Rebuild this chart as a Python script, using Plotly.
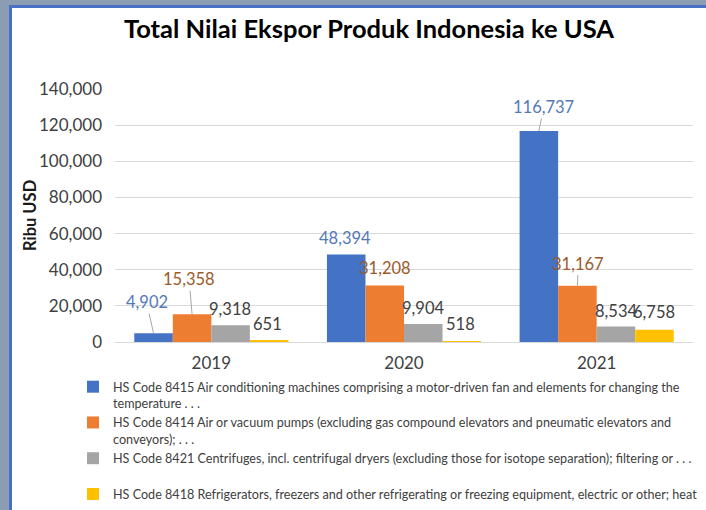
import plotly.graph_objects as go

years = ["2019", "2020", "2021"]
series_names = [
    "HS Code 8415 Air conditioning machines comprising a motor-driven fan and elements for changing the<br>temperature . . .",
    "HS Code 8414 Air or vacuum pumps (excluding gas compound elevators and pneumatic elevators and<br>conveyors); . . .",
    "HS Code 8421 Centrifuges, incl. centrifugal dryers (excluding those for isotope separation); filtering or . . .<br>&nbsp;",
    "HS Code 8418 Refrigerators, freezers and other refrigerating or freezing equipment, electric or other; heat<br>. . .",
]
hs8415 = [4902, 48394, 116737]
hs8414 = [15358, 31208, 31167]
hs8421 = [9318, 9904, 8534]
hs8418 = [651, 518, 6758]
values = [hs8415, hs8414, hs8421, hs8418]
y_title = "Ribu USD"

colors = ["#4472C4", "#ED7D31", "#A5A5A5", "#FFC000"]
label_colors = ["#5479B8", "#9C5A2A", "#404040", "#404040"]
# label offsets (px) relative to bar top: (dx, dy, leader line)
label_offsets = [
    [(-7, -31, True), (-1, -17, False), (5, -24, True)],
    [(-3, -35, True), (0, -18, False), (1, -22, True)],
    [(-1, -16, False), (0, -16, False), (0, -16, False)],
    [(-2, -17, False), (-1, -17, False), (0, -18, False)],
]

W, H = 706, 510
ML, MR, MT, MB = 115, 13, 89, 168
PW, PH = W - ML - MR, H - MT - MB
bargap = 0.2
n_series = len(values)
bar_px = PW / len(years) * (1 - bargap) / n_series

def px_x(p):
    return (p - ML) / PW

def px_y(p):
    return (H - MB - p) / PH

fig = go.Figure()
for name, vals, col in zip(series_names, values, colors):
    fig.add_trace(go.Bar(x=years, y=vals, name=name, marker=dict(color=col, line=dict(width=0))))

annotations = []
for si, vals in enumerate(values):
    shift = (si - (n_series - 1) / 2) * bar_px
    for ci, v in enumerate(vals):
        dx, dy, leader = label_offsets[si][ci]
        annotations.append(dict(
            x=ci, y=v, xref="x", yref="y", text=f"{v:,}",
            showarrow=True, arrowhead=0, arrowwidth=1, standoff=0,
            arrowcolor="#A6A6A6" if leader else "rgba(0,0,0,0)",
            ax=dx, ay=dy, xshift=shift,
            font=dict(family="Lato", size=16.5, color=label_colors[si]),
        ))
annotations.append(dict(
    x=px_x(30), y=px_y(216), xref="paper", yref="paper", text=f"<b>{y_title}</b>",
    textangle=-90, showarrow=False, xanchor="center", yanchor="middle",
    font=dict(family="Lato", size=16.5, color="#1a1a1a"),
))

fig.update_layout(
    width=W, height=H,
    margin=dict(l=ML, r=MR, t=MT, b=MB, autoexpand=False),
    paper_bgcolor="#8C9CB2", plot_bgcolor="white",
    barmode="group", bargap=bargap, bargroupgap=0,
    font=dict(family="Lato", color="#404040"),
    title=dict(text="<b>Total Nilai Ekspor Produk Indonesia ke USA</b>",
               x=369 / W, xanchor="center", y=1 - 29 / H, yanchor="middle",
               font=dict(family="Lato", size=25.5, color="black")),
    xaxis=dict(type="category", range=[-0.5, 2.5], showgrid=False, showline=True,
               linecolor="#D9D9D9", ticks="",
               tickfont=dict(size=17, color="#404040"), ticklabelstandoff=6),
    yaxis=dict(range=[0, 140000], dtick=20000, tickformat=",", gridcolor="#D9D9D9",
               zeroline=False, showline=False, ticks="",
               tickfont=dict(size=17, color="#404040"), ticklabelstandoff=12),
    legend=dict(orientation="v", x=px_x(73), xanchor="left", y=px_y(372), yanchor="top",
                bgcolor="rgba(0,0,0,0)", font=dict(size=12.6, color="#404040"),
                traceorder="normal", itemclick=False, tracegroupgap=0, valign="top"),
    annotations=annotations,
    shapes=[dict(type="rect", xref="paper", yref="paper", layer="below",
                 x0=px_x(10.5), x1=px_x(730), y0=px_y(530), y1=px_y(6.5),
                 fillcolor="white", line=dict(color="#4A70C4", width=3))],
)

fig.write_html("out.html", config={"displayModeBar": False},
               post_script="document.body.style.margin='0px';")
